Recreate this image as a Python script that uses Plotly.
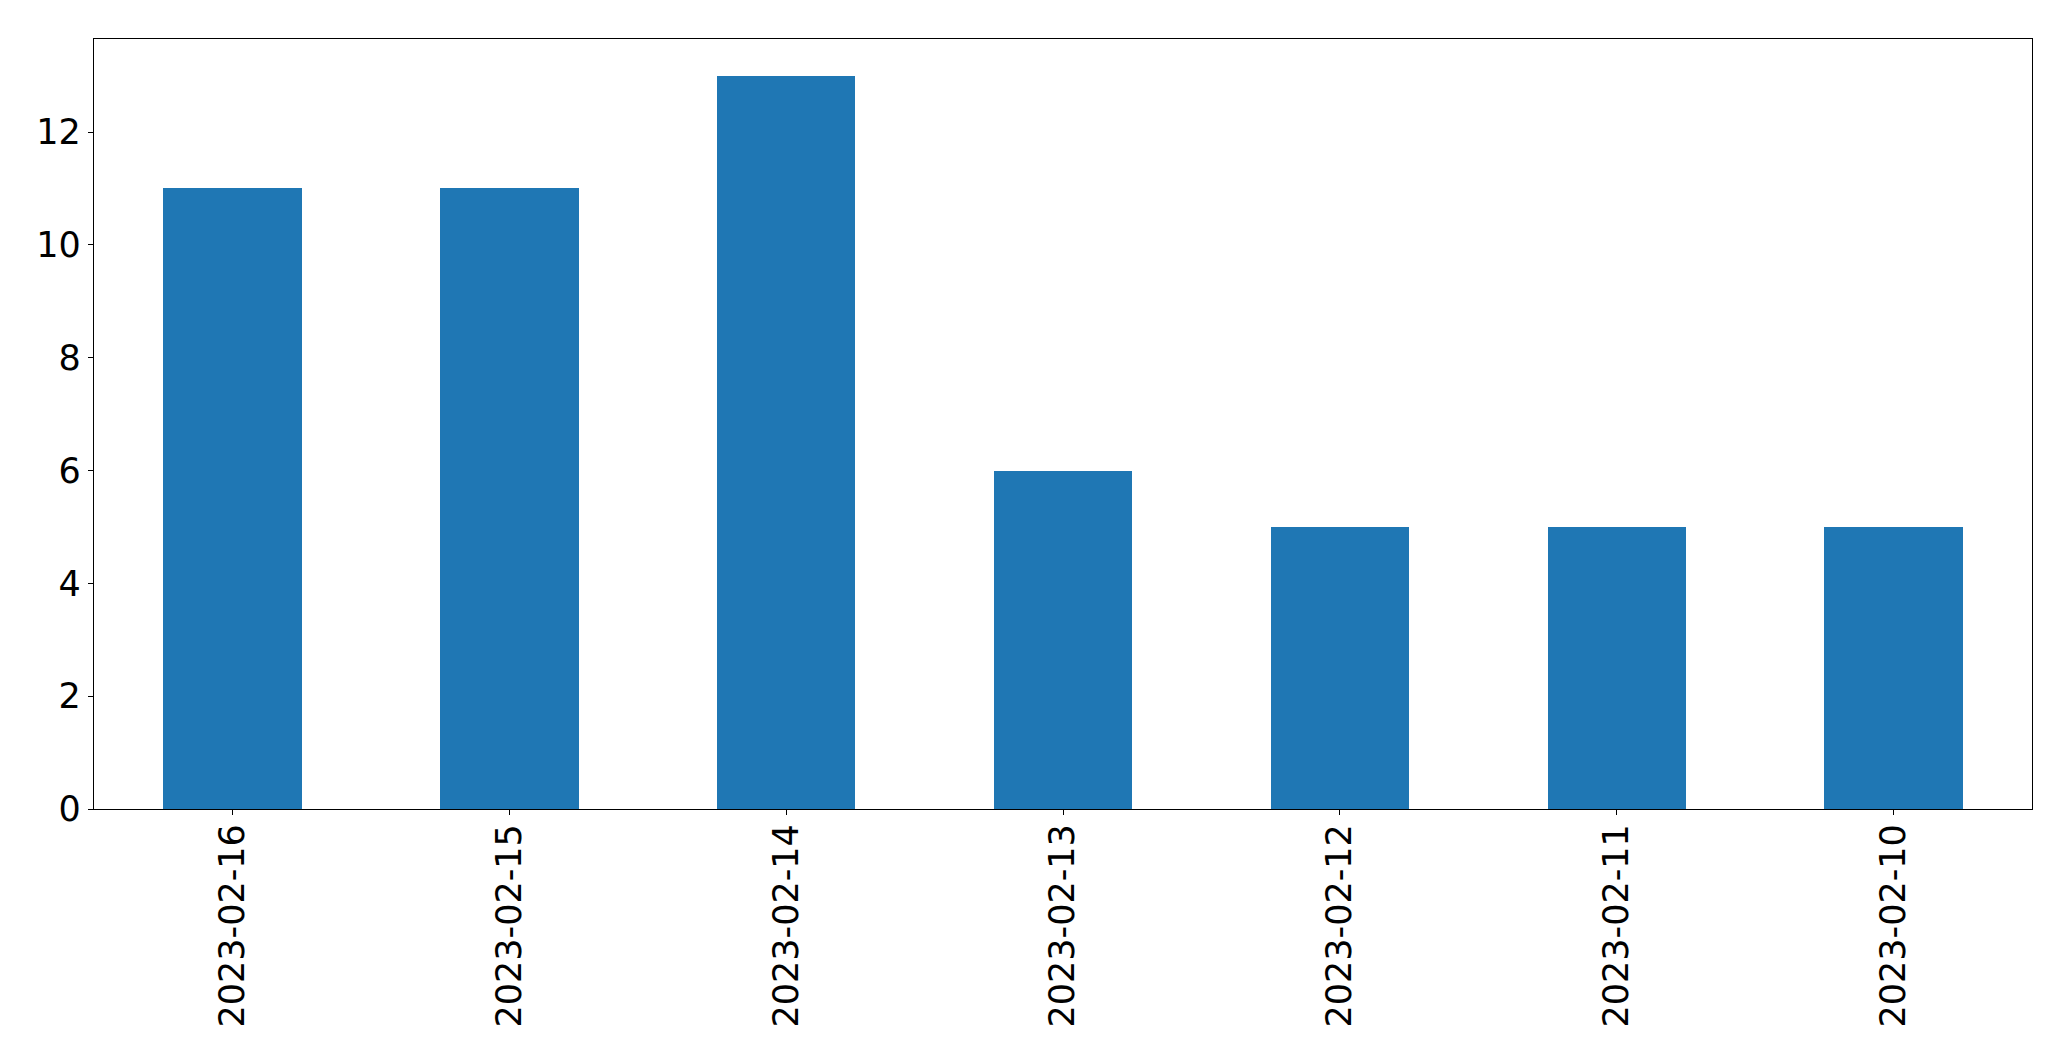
import plotly.graph_objects as go

dates = ["2023-02-16", "2023-02-15", "2023-02-14", "2023-02-13", "2023-02-12", "2023-02-11", "2023-02-10"]
counts = [11, 11, 13, 6, 5, 5, 5]
y_ticks = [0, 2, 4, 6, 8, 10, 12]

fig = go.Figure(go.Bar(x=dates, y=counts, width=0.5, marker=dict(color="#1f77b4", line=dict(width=0))))

axis_common = dict(showline=True, mirror=True, linecolor="black", linewidth=1.3,
                   ticks="outside", ticklen=5, tickwidth=1.3, tickcolor="black",
                   showgrid=False, zeroline=False,
                   tickfont=dict(family="DejaVu Sans", size=35, color="black"))

fig.update_layout(
    width=2071, height=1061,
    margin=dict(l=94, r=39, t=39, b=252),
    paper_bgcolor="white", plot_bgcolor="white",
    showlegend=False,
    bargap=0,
    xaxis=dict(type="category", range=[-0.5, 6.5], tickangle=-90, ticklabelstandoff=-5, **axis_common),
    yaxis=dict(range=[0, 13.65], tickvals=y_ticks, ticktext=[str(v) for v in y_ticks], **axis_common),
)

fig.write_html("out.html", config={"displayModeBar": False},
               post_script="document.body.style.margin='0';document.body.style.overflow='hidden';")
